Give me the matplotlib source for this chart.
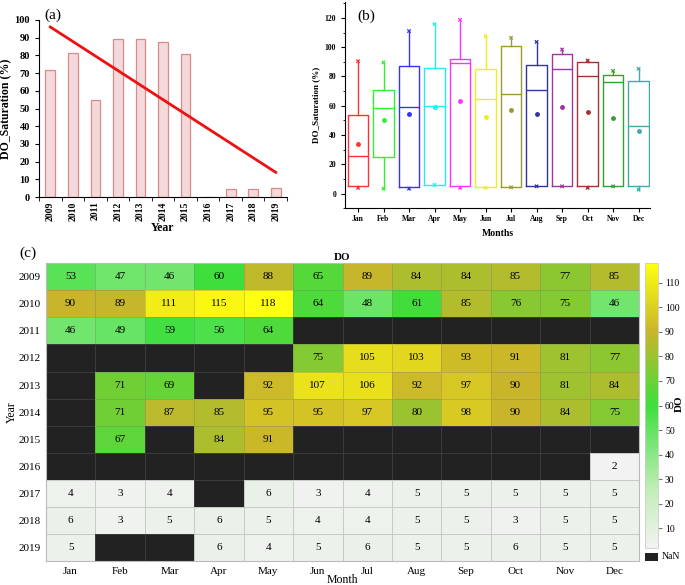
import numpy as np
from matplotlib import pyplot as plt
from matplotlib.colors import LinearSegmentedColormap
from matplotlib.patches import Rectangle

plt.rcParams['font.family'] = ['Liberation Serif', 'DejaVu Serif']

# (a) yearly mean saturation
years = ['2009', '2010', '2011', '2012', '2013', '2014', '2015', '2016', '2017', '2018', '2019']
yearly_do = [72, 81.5, 55, 89.5, 89, 87.5, 81, 0, 4.5, 4.5, 5]
trend_ends = [96, 14]

# (b) monthly box stats
months = ['Jan', 'Feb', 'Mar', 'Apr', 'May', 'Jun', 'Jul', 'Aug', 'Sep', 'Oct', 'Nov', 'Dec']
box_min = [3.9, 3.4, 3.4, 6.0, 4.0, 3.9, 4.3, 5.0, 5.0, 3.9, 5.0, 2.7]
box_q1 = [5.0, 25.3, 4.3, 6.2, 5.5, 4.3, 4.8, 5.0, 5.0, 5.2, 5.0, 5.0]
box_med = [26.0, 58.5, 59.0, 60.1, 89.0, 64.5, 68.1, 70.6, 85.0, 80.2, 75.9, 46.2]
box_q3 = [53.8, 71.0, 87.2, 85.6, 92.0, 85.0, 100.7, 88.0, 95.0, 90.2, 81.1, 77.2]
box_max = [90.4, 89.5, 111.0, 115.7, 118.7, 107.5, 106.4, 103.6, 98.4, 90.9, 83.8, 85.2]
box_mean = [34.0, 50.3, 54.4, 59.2, 62.9, 52.4, 57.4, 54.7, 59.2, 55.8, 51.7, 42.6]
box_colors = ['#ff3333', '#33ee33', '#3333ff', '#22eeee', '#ff33ff', '#eeee22',
              '#9a9a2e', '#3434a0', '#a034a0', '#a03434', '#34a034', '#44a8a8']

# (c) heatmap values, rows = years, cols = months
nan = np.nan
do_table = np.array([
    [53, 47, 46, 60, 88, 65, 89, 84, 84, 85, 77, 85],
    [90, 89, 111, 115, 118, 64, 48, 61, 85, 76, 75, 46],
    [46, 49, 59, 56, 64, nan, nan, nan, nan, nan, nan, nan],
    [nan, nan, nan, nan, nan, 75, 105, 103, 93, 91, 81, 77],
    [nan, 71, 69, nan, 92, 107, 106, 92, 97, 90, 81, 84],
    [nan, 71, 87, 85, 95, 95, 97, 80, 98, 90, 84, 75],
    [nan, 67, nan, 84, 91, nan, nan, nan, nan, nan, nan, nan],
    [nan, nan, nan, nan, nan, nan, nan, nan, nan, nan, nan, 2],
    [4, 3, 4, nan, 6, 3, 4, 5, 5, 5, 5, 5],
    [6, 3, 5, 6, 5, 4, 4, 5, 5, 3, 5, 5],
    [5, nan, nan, 6, 4, 5, 6, 5, 5, 6, 5, 5],
])

fig = plt.figure(figsize=(6.85, 5.85), dpi=100)

# ---- (a)
ax1 = fig.add_axes([0.057, 0.663, 0.362, 0.303])
x = np.arange(len(years))
ax1.bar(x, yearly_do, width=0.43, color='#f3d9d9', edgecolor='#d98a8a', linewidth=0.9)
ax1.plot([x[0], x[-1]], trend_ends, color='#ee1111', lw=2)
ax1.set_xlim(-0.43, 10.5)
ax1.set_ylim(0, 100)
ax1.set_yticks(range(0, 101, 10))
ax1.set_xticks(x)
ax1.set_xticklabels(years, rotation=90, fontsize=7, fontweight='bold')
ax1.set_xticks(np.arange(-0.5, 11, 1), minor=True)
ax1.tick_params(axis='x', which='major', length=0, pad=3)
ax1.tick_params(axis='x', which='minor', length=3)
ax1.tick_params(axis='y', labelsize=7.5, length=3)
for t in ax1.get_yticklabels():
    t.set_fontweight('bold')
ax1.spines[['top', 'right']].set_visible(False)
ax1.set_ylabel('DO_Saturation (%)', fontsize=8.5, fontweight='bold', labelpad=2)
ax1.set_xlabel('Year', fontsize=8.5, fontweight='bold', labelpad=1)
ax1.text(0.02, 1.025, '(a)', transform=ax1.transAxes, fontsize=11, va='center')

# ---- (b)
ax2 = fig.add_axes([0.504, 0.644, 0.445, 0.353])
stats = []
for i in range(len(months)):
    stats.append(dict(whislo=box_min[i], q1=box_q1[i], med=box_med[i],
                      q3=box_q3[i], whishi=box_max[i], mean=box_mean[i]))
pos = np.arange(1, len(months) + 1)
parts = ax2.bxp(stats, positions=pos, widths=0.8, showcaps=False, showfliers=False,
                showmeans=True, patch_artist=False)
for i, c in enumerate(box_colors):
    parts['boxes'][i].set(color=c, lw=1.0)
    parts['medians'][i].set(color=c, lw=1.0)
    for w in parts['whiskers'][2 * i:2 * i + 2]:
        w.set(color=c, lw=1.0)
    parts['means'][i].set(marker='o', markerfacecolor=c, markeredgecolor=c, markersize=2.5)
ax2.scatter(pos, box_max, marker='x', s=6, c=box_colors, linewidths=0.9)
ax2.scatter(pos, box_min, marker='x', s=6, c=box_colors, linewidths=0.9)
ax2.set_xlim(0.5, 12.45)
ax2.set_ylim(-10, 131)
ax2.set_yticks(range(0, 121, 20))
ax2.set_yticks(range(-10, 131, 10), minor=True)
ax2.set_xticks(pos)
ax2.set_xticklabels(months, fontsize=5.5, fontweight='bold')
ax2.tick_params(axis='y', labelsize=5.5, length=3)
ax2.tick_params(axis='y', which='minor', length=1.5)
ax2.tick_params(axis='x', length=3, pad=2)
for t in ax2.get_yticklabels():
    t.set_fontweight('bold')
ax2.spines[['top', 'right']].set_visible(False)
ax2.set_ylabel('DO_Saturation (%)', fontsize=6.5, fontweight='bold', labelpad=3)
ax2.set_xlabel('Months', fontsize=7, fontweight='bold', labelpad=4)
ax2.text(0.04, 0.93, '(b)', transform=ax2.transAxes, fontsize=11, va='center')

# ---- (c)
cmap = LinearSegmentedColormap.from_list(
    'do', [(0.0, '#f2f2f2'), (0.2, '#c2eeb8'), (0.5, '#3ddf3d'),
           (0.76, '#c9b52a'), (1.0, '#ffff10')])
cmap.set_bad('#222222')
ax3 = fig.add_axes([0.067, 0.041, 0.866, 0.509])
mesh = ax3.pcolormesh(np.ma.masked_invalid(do_table), cmap=cmap, vmin=2, vmax=118,
                      edgecolors=(0.45, 0.45, 0.45, 0.3), linewidth=0.6)
ax3.set_ylim(len(years), 0)
ax3.set_xlim(0, len(months))
for r in range(do_table.shape[0]):
    for c in range(do_table.shape[1]):
        v = do_table[r, c]
        if not np.isnan(v):
            ax3.text(c + 0.5, r + 0.5, f'{v:.0f}', ha='center', va='center', fontsize=8)
ax3.set_xticks(np.arange(len(months)) + 0.5)
ax3.set_xticklabels(months, fontsize=8)
ax3.set_yticks(np.arange(len(years)) + 0.5)
ax3.set_yticklabels(years, fontsize=8)
ax3.tick_params(length=0, pad=4)
for s in ax3.spines.values():
    s.set_color('#bbbbbb')
    s.set_linewidth(0.8)
ax3.set_title('DO', fontsize=8, fontweight='bold', pad=2)
ax3.set_xlabel('Month', fontsize=8.5, labelpad=-1)
ax3.set_ylabel('Year', fontsize=8.5, labelpad=0)
ax3.text(-0.045, 1.035, '(c)', transform=ax3.transAxes, fontsize=11, va='center')

cax = fig.add_axes([0.9416, 0.0633, 0.019, 0.487])
cb = fig.colorbar(mesh, cax=cax, ticks=range(10, 111, 10))
cb.outline.set_edgecolor('#cccccc')
cb.outline.set_linewidth(0.6)
cax.tick_params(labelsize=7, length=3, color='#777777', pad=2)
fig.text(0.991, 0.31, 'DO', rotation=90, fontsize=8, fontweight='bold',
         ha='center', va='center')

nax = fig.add_axes([0.9416, 0.041, 0.019, 0.014])
nax.add_patch(Rectangle((0, 0), 1, 1, color='#222222'))
nax.set_xlim(0, 1)
nax.set_ylim(0, 1)
nax.axis('off')
fig.text(0.966, 0.048, 'NaN', fontsize=7, va='center')

fig.savefig('out.png', dpi=100)
